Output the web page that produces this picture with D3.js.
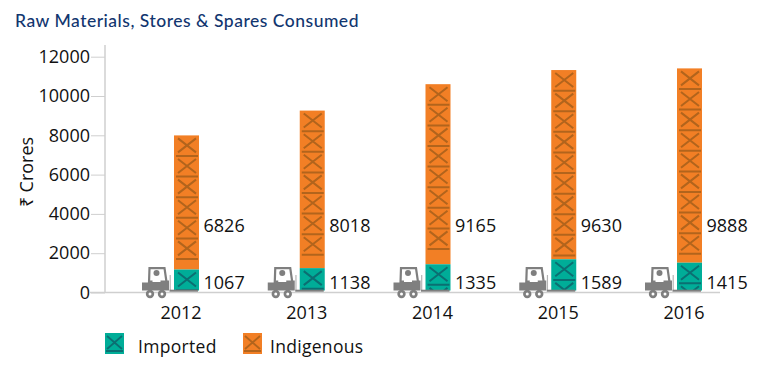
<!DOCTYPE html>
<html>
<head>
<meta charset="utf-8">
<script src="https://cdn.jsdelivr.net/npm/d3@7"></script>
<style>
html,body{margin:0;padding:0;background:#fff;}
svg{display:block;}
text{font-family:"Open Sans",sans-serif;fill:#111;}
</style>
</head>
<body>
<div id="container"></div>
<script>
let w=775;
let h=365;

// values
let years=["2012","2013","2014","2015","2016"];
let imported=[1067,1138,1335,1589,1415];
let indigenous=[6826,8018,9165,9630,9888];
let yTicks=[0,2000,4000,6000,8000,10000,12000];

let tealCol="#00ad98", tealDark="#0b6f72";
let orangeCol="#f27f25", orangeDark="#b2641c";
let greyCol="#7f7f7f";

let x=d3.scalePoint().domain(years).range([186.5,689.5]);
let y=d3.scaleLinear().domain([0,12000]).range([292.5,56.7]);
let barW=25;
let barLift=2; // bars sit a touch above the axis line
let period=20.6;

let viz=d3.select("#container").append("svg").attr("width",w).attr("height",h);

viz.append("text").text("Raw Materials, Stores & Spares Consumed")
  .attr("x",15).attr("y",27).attr("font-size",17.5).attr("letter-spacing",0.5)
  .style("font-family","Lato, sans-serif").style("font-weight",500).style("fill","#12366f");

// y axis
let yAxis=d3.axisLeft(y).tickValues(yTicks).tickFormat(d3.format("d")).tickSize(14).tickPadding(1);
let yG=viz.append("g").attr("transform","translate(105,0)").call(yAxis);
yG.select(".domain").attr("d","M0,45V292.5").attr("stroke","#cfcfcf").attr("stroke-width",1.5);
yG.selectAll(".tick line").attr("stroke","#cfcfcf");
yG.selectAll(".tick text").attr("font-size",18).attr("fill","#111");

viz.append("text").text("₹ Crores")
  .attr("transform","translate(33,172) rotate(-90)")
  .attr("text-anchor","middle").attr("font-size",18);

// x axis
let xAxis=d3.axisBottom(x).tickSize(0).tickPadding(14);
let xG=viz.append("g").attr("transform","translate(0,292.5)").call(xAxis);
xG.select(".domain").attr("d","M90,0H720").attr("stroke","#cfcfcf").attr("stroke-width",1.5);
xG.selectAll(".tick text").attr("font-size",18).attr("fill","#111").attr("dx",-6);

// one cross + rule per repeat of the pattern
function crossMarks(g,px,py,pw,col,n){
  for(let i=0;i<n;i++){
    let top=py+i*period;
    g.append("path")
      .attr("d","M"+(px+4)+","+(top+3)+"L"+(px+pw-3)+","+(top+17)+"M"+(px+pw-3)+","+(top+3)+"L"+(px+4)+","+(top+17))
      .attr("stroke",col).attr("stroke-width",2).attr("fill","none");
    g.append("path")
      .attr("d","M"+(px+2)+","+(top+20.6)+"H"+(px+pw-1))
      .attr("stroke",col).attr("stroke-width",2).attr("fill","none");
  }
}

function stackBar(yr,i){
  let bx=x(yr)-barW/2;
  let teal0=y(imported[i])-barLift;
  let tealH=y(0)-y(imported[i]);
  let orange0=y(imported[i]+indigenous[i])-barLift;
  let orangeH=y(0)-y(indigenous[i]);
  let cid="clip"+yr;
  let clip=viz.append("clipPath").attr("id",cid);
  clip.append("rect").attr("x",bx).attr("y",orange0).attr("width",barW).attr("height",orangeH);
  clip.append("rect").attr("x",bx).attr("y",teal0).attr("width",barW).attr("height",tealH);

  viz.append("rect").attr("x",bx).attr("y",orange0).attr("width",barW).attr("height",orangeH).attr("fill",orangeCol);
  viz.append("rect").attr("x",bx).attr("y",teal0).attr("width",barW).attr("height",tealH).attr("fill",tealCol);

  let og=viz.append("g").attr("clip-path","url(#"+cid+")");
  crossMarks(og,bx,orange0,barW,orangeDark,Math.floor(orangeH/period));
  let tg=viz.append("g").attr("clip-path","url(#"+cid+")");
  crossMarks(tg,bx,teal0,barW,tealDark,Math.ceil(tealH/period));
}
years.forEach(stackBar);

// forklift next to each bar
function forklift(yr){
  let g=viz.append("g").attr("transform","translate("+(x(yr)-45)+",267)");
  g.append("path").attr("d","M7.5,16L8,1.2H23L25,15")
    .attr("fill","none").attr("stroke",greyCol).attr("stroke-width",2.2);
  g.append("circle").attr("cx",15).attr("cy",6).attr("r",3).attr("fill",greyCol);
  g.append("path").attr("d","M0.5,15.5H8V13.5H27.5V23.5H0.5Z").attr("fill",greyCol);
  g.append("rect").attr("x",11).attr("y",10).attr("width",8).attr("height",5).attr("fill","#fff");
  g.append("path").attr("d","M28.7,8V23.5").attr("fill","none").attr("stroke","#b5b5b5").attr("stroke-width",1.2);
  g.append("path").attr("d","M28,23.7H56.5").attr("fill","none").attr("stroke",greyCol).attr("stroke-width",2);
  [8.5,20.5].forEach(function(cx){
    g.append("circle").attr("cx",cx).attr("cy",27).attr("r",4.2).attr("fill",greyCol);
    g.append("circle").attr("cx",cx).attr("cy",27).attr("r",1.5).attr("fill","#fff");
  });
}
years.forEach(forklift);

// value labels
viz.selectAll(".indLabel").data(indigenous).enter().append("text")
  .attr("class","indLabel").text(function(d){return d;})
  .attr("x",function(d,i){return x(years[i])+17;}).attr("y",232).attr("font-size",18);
viz.selectAll(".impLabel").data(imported).enter().append("text")
  .attr("class","impLabel").text(function(d){return d;})
  .attr("x",function(d,i){return x(years[i])+17;}).attr("y",289).attr("font-size",18);

// legend
let legendNames=["Imported","Indigenous"];
let legendFill=[tealCol,orangeCol];
let legendDark=[tealDark,orangeDark];
let legendX=[105,243];
legendNames.forEach(function(name,i){
  let lg=viz.append("g");
  lg.append("rect").attr("x",legendX[i]).attr("y",333).attr("width",19).attr("height",21).attr("fill",legendFill[i]);
  let lx=legendX[i];
  lg.append("path").attr("d","M"+(lx+2)+",336L"+(lx+17)+",349M"+(lx+17)+",336L"+(lx+2)+",349M"+(lx+1)+",351H"+(lx+18))
    .attr("stroke",legendDark[i]).attr("stroke-width",1.8).attr("fill","none");
  lg.append("text").text(name).attr("x",lx+(i==0?33:27)).attr("y",353).attr("font-size",17.5).attr("letter-spacing",0.3);
});
</script>
</body>
</html>
